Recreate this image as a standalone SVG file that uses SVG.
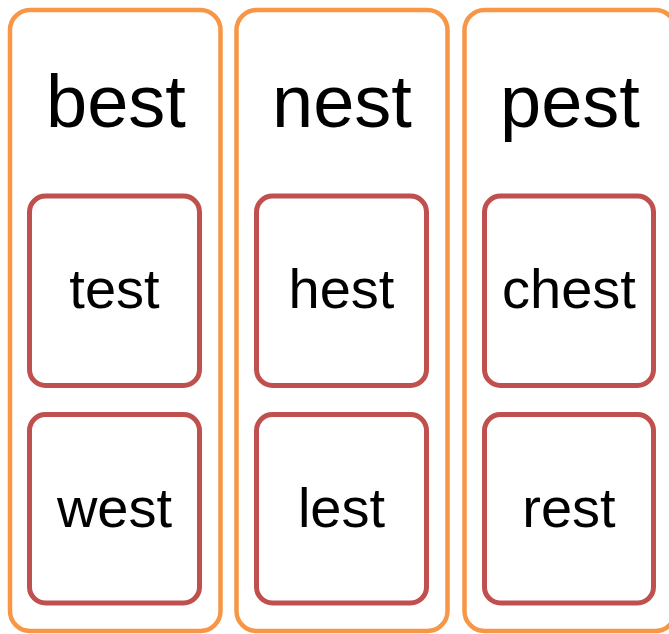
<svg xmlns="http://www.w3.org/2000/svg" width="669" height="634" viewBox="0 0 669 634">
<style>
.col{fill:#FFFFFF;stroke:#F79646;stroke-width:4.5}
.box{fill:#FFFFFF;stroke:#C0504D;stroke-width:5}
.hd{font-family:"Liberation Sans",Arial,sans-serif;font-size:74px;fill:#000000;text-anchor:middle}
.lb{font-family:"Liberation Sans",Arial,sans-serif;font-size:56px;fill:#000000;text-anchor:middle}
</style>
<rect width="669" height="634" fill="#FFFFFF"/>
<g id="col-best">
<rect class="col" x="10" y="10" width="210.5" height="621" rx="20"/>
<text class="hd" x="116" y="127">best</text>
</g>
<g id="col-nest">
<rect class="col" x="236.5" y="10" width="211" height="621" rx="20"/>
<text class="hd" x="342" y="127">nest</text>
</g>
<g id="col-pest">
<rect class="col" x="464.5" y="10" width="211" height="621" rx="20"/>
<text class="hd" x="570" y="127">pest</text>
</g>
<g id="box-test">
<rect class="box" x="29.5" y="196" width="170" height="189.5" rx="16"/>
<text class="lb" x="114.5" y="308">test</text>
</g>
<g id="box-west">
<rect class="box" x="29.5" y="414.5" width="170" height="188.5" rx="16"/>
<text class="lb" x="114.5" y="527">west</text>
</g>
<g id="box-hest">
<rect class="box" x="256.5" y="196" width="170" height="189.5" rx="16"/>
<text class="lb" x="341.5" y="308">hest</text>
</g>
<g id="box-lest">
<rect class="box" x="256.5" y="414.5" width="170" height="188.5" rx="16"/>
<text class="lb" x="341.5" y="527">lest</text>
</g>
<g id="box-chest">
<rect class="box" x="484.5" y="196" width="169" height="189.5" rx="16"/>
<text class="lb" x="569" y="308">chest</text>
</g>
<g id="box-rest">
<rect class="box" x="484.5" y="414.5" width="169" height="188.5" rx="16"/>
<text class="lb" x="569" y="527">rest</text>
</g>
<g id="connectors"/>
</svg>
